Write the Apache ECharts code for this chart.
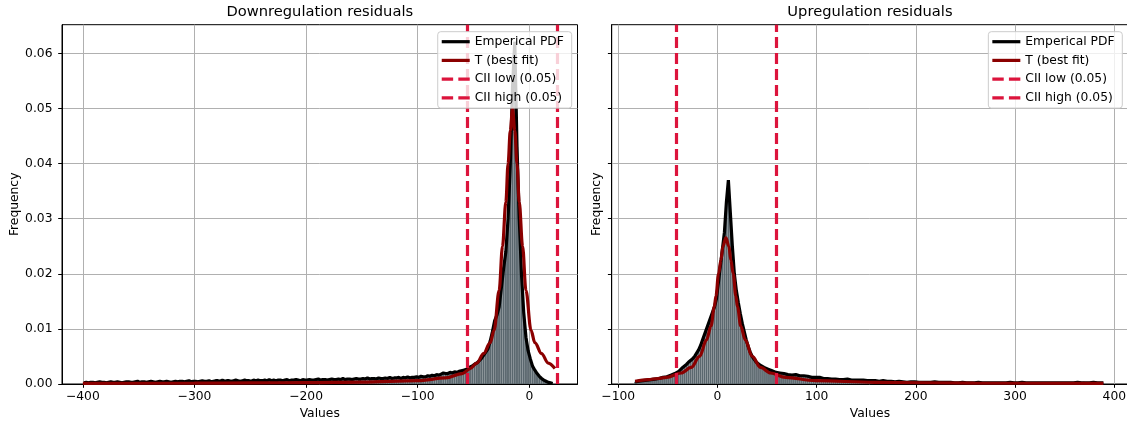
<!DOCTYPE html>
<html>
<head>
<meta charset="utf-8">
<script src="https://cdn.jsdelivr.net/npm/echarts@6/dist/echarts.min.js"></script>
<style>
html,body{margin:0;padding:0;background:#fff;}
#chart{width:1127px;height:426px;}
</style>
</head>
<body>
<div id="chart"></div>
<script>
// ---------------- DATA ----------------
const titles = ['Downregulation residuals', 'Upregulation residuals'];
const legendNames = ['Emperical PDF', 'T (best fit)', 'CII low (0.05)', 'CII high (0.05)'];
const xAxisTitle = 'Values';
const yAxisTitle = 'Frequency';

const yTicks = [0, 0.01, 0.02, 0.03, 0.04, 0.05, 0.06];
const downXTicks = [-400, -300, -200, -100, 0];
const upXTicks = [-100, 0, 100, 200, 300, 400];

// histogram bins (first bin left edge, bin width)
const downBinStart = -400;
const upBinStart = -84;
const binWidth = 2;

// Downregulation histogram density (bins of width 2 from -400)
const downValues = [
0.0002,0.0003,0.0002,0.0003,0.0003,0.0002,0.0003,0.0004,0.0003,0.0003,
0.0002,0.0003,0.0004,0.0003,0.0003,0.0004,0.0003,0.0002,0.0003,0.0004,
0.0004,0.0003,0.0003,0.0004,0.0005,0.0003,0.0004,0.0004,0.0003,0.0004,
0.0005,0.0004,0.0003,0.0004,0.0005,0.0004,0.0004,0.0005,0.0004,0.0003,
0.0004,0.0005,0.0004,0.0005,0.0005,0.0004,0.0005,0.0006,0.0004,0.0005,
0.0005,0.0004,0.0005,0.0006,0.0005,0.0005,0.0006,0.0004,0.0005,0.0006,
0.0006,0.0005,0.0007,0.0005,0.0006,0.0006,0.0005,0.0006,0.0007,0.0006,
0.0005,0.0006,0.0007,0.0006,0.0006,0.0005,0.0007,0.0006,0.0007,0.0006,
0.0006,0.0007,0.0006,0.0008,0.0006,0.0007,0.0006,0.0007,0.0007,0.0006,
0.0007,0.0008,0.0006,0.0007,0.0007,0.0008,0.0007,0.0006,0.0008,0.0007,
0.0007,0.0008,0.0007,0.0007,0.0008,0.0009,0.0007,0.0008,0.0008,0.0007,
0.0008,0.0009,0.0008,0.0008,0.0009,0.0008,0.0010,0.0008,0.0009,0.0009,
0.0008,0.0009,0.0010,0.0009,0.0009,0.0010,0.0009,0.0011,0.0009,0.0010,
0.0010,0.0009,0.0011,0.0010,0.0010,0.0011,0.0010,0.0012,0.0010,0.0011,
0.0011,0.0012,0.0010,0.0012,0.0011,0.0013,0.0011,0.0012,0.0012,0.0013,
0.0012,0.0014,0.0013,0.0013,0.0015,0.0014,0.0016,0.0015,0.0017,0.0016,
0.0018,0.0020,0.0019,0.0019,0.0021,0.0020,0.0022,0.0021,0.0023,0.0024,
0.0025,0.0026,0.0028,0.0031,0.0033,0.0036,0.0038,0.0042,0.0046,0.0052,
0.0058,0.0064,0.0078,0.0095,0.0115,0.0125,0.0140,0.0175,0.0210,0.0240,
0.0300,0.0400,0.0540,0.0621,0.0430,0.0300,0.0200,0.0130,0.0085,0.0060,
0.0045,0.0032,0.0025,0.0019,0.0014,0.0010,0.0007,0.0005,0.0003,0.0002,
0.0001
];

// Upregulation histogram density (bins of width 2 from -84)
const upValues = [
0.0004,0.0005,0.0005,0.0006,0.0006,0.0007,0.0007,0.0008,0.0008,0.0009,
0.0009,0.0010,0.0010,0.0011,0.0012,0.0012,0.0013,0.0015,0.0016,0.0017,
0.0019,0.0021,0.0023,0.0026,0.0030,0.0033,0.0036,0.0040,0.0043,0.0046,
0.0050,0.0056,0.0062,0.0070,0.0080,0.0090,0.0100,0.0110,0.0120,0.0130,
0.0140,0.0155,0.0185,0.0215,0.0245,0.0275,0.0330,0.0370,0.0310,0.0250,
0.0200,0.0170,0.0148,0.0128,0.0110,0.0095,0.0080,0.0068,0.0058,0.0050,
0.0045,0.0040,0.0037,0.0034,0.0032,0.0030,0.0029,0.0027,0.0025,0.0024,
0.0022,0.0021,0.0020,
0.0020,0.0019,0.0019,0.0018,0.0017,0.0018,0.0016,0.0016,0.0017,0.0015,
0.0015,0.0014,0.0015,0.0013,0.0014,0.0013,0.0012,0.0013,0.0012,
0.0011,0.0012,0.0011,0.0010,0.0011,0.0010,0.0010,0.0009,0.0010,0.0009,
0.0009,0.0008,0.0009,0.0008,0.0008,0.0009,0.0008,0.0007,0.0008,0.0007,
0.0007,0.0007,0.0006,0.0007,0.0006,0.0006,0.0007,0.0006,0.0005,0.0006,
0.0006,0.0005,0.0005,0.0006,0.0005,0.0005,0.0004,0.0005,0.0005,0.0004,
0.0004,0.0005,0.0004,0.0004,0.0004,0.0003,0.0004,0.0004,0.0003,0.0004,
0.0003,0.0003,0.0004,0.0003,0.0003,0.0003,0.0002,0.0003,0.0003,0.0004,
0.0003,0.0003,0.0002,0.0003,0.0003,0.0003,0.0002,0.0003,0.0003,0.0002,
0.0003,0.0002,0.0003,0.0003,0.0002,0.0002,0.0003,0.0002,0.0003,0.0002,
0.0002,0.0003,0.0002,0.0002,0.0003,0.0002,0.0002,0.0002,0.0003,0.0002,
0.0002,0.0002,0.0003,0.0002,0.0002,0.0002,0.0002,0.0003,0.0002,0.0002,
0.0002,0.0002,0.0002,0.0003,0.0002,0.0002,0.0002,0.0002,0.0002,0.0002,
0.0003,0.0002,0.0002,0.0002,0.0002,0.0002,0.0003,0.0002,0.0002,0.0002,
0.0002,0.0002,0.0002,0.0002,0.0003,0.0002,0.0002,0.0002,0.0002,0.0002,
0.0002,0.0003,0.0002,0.0002,0.0004,0.0002,0.0002,0.0002,0.0002,0.0003,
0.0002,0.0002,0.0002,0.0002,0.0002
];

// T (best fit) curves, read at selected points
const downFitX = [-400,-300,-250,-200,-150,-100,-75,-60,-53,-47,-41,-35,-31.5,-27,-24,-21,-19,-17,-15,-13,-11,-9,-6,-3,1.5,5,11,17,23];
const downFitY = [0.0001,0.00015,0.0002,0.00025,0.00035,0.0006,0.0011,0.0019,0.0028,0.0038,0.0055,0.0075,0.0098,0.017,0.025,0.033,0.040,0.046,0.050,0.046,0.040,0.033,0.025,0.017,0.0098,0.0075,0.0055,0.0038,0.0028];
const upFitX = [-83,-70,-60,-51.5,-36.5,-26.5,-18,-11,-6.5,-3.2,-1.5,1.1,3.5,5.5,8.5,11.5,13.5,15.9,18.5,20.2,23.5,28,35,43.5,53.5,68.5,98.5,158.5,258.5,389];
const upFitY = [0.0005,0.0008,0.001,0.0012,0.002,0.003,0.005,0.008,0.0105,0.014,0.016,0.020,0.0225,0.025,0.0265,0.025,0.0225,0.020,0.016,0.014,0.0105,0.008,0.005,0.003,0.002,0.0012,0.0006,0.0003,0.00015,0.0001];

// confidence interval limits
const downCI = [-55.6, 25.0];
const upCI = [-42.0, 59.2];

// ---------------- CHART ----------------
const FONT = 'DejaVu Sans';
const histPairs = (start, vals) => vals.map((v, i) => [start + binWidth * (i + 0.5), v]);
const zip = (xs, ys) => xs.map((x, i) => [x, ys[i]]);
const minusFmt = v => String(v).replace('-', '\u2212');

function histRender(params, api) {
  const c = api.value(0), v = api.value(1);
  const p0 = api.coord([c - binWidth / 2, v]);
  const p1 = api.coord([c + binWidth / 2, 0]);
  return {
    type: 'rect',
    shape: { x: p0[0], y: p0[1], width: p1[0] - p0[0], height: p1[1] - p0[1] },
    style: { fill: 'rgba(72,86,94,0.9)', stroke: 'rgba(255,255,255,0.18)', lineWidth: 0.5 }
  };
}

const grids = [
  { left: 62, top: 24.7, width: 515.5, height: 359.3 },
  { left: 611.7, top: 24.7, width: 516.5, height: 359.3 }
];
const xExt = [[-418.7, 43.2], [-106.6, 414.0]];
const xTickSets = [downXTicks, upXTicks];

const solidIcon = 'path://M0,0h28v3.2h-28z';
const dashIcon = 'path://M0,0h11v3.2h-11z M16,0h11v3.2h-11z';
const legendIcons = [solidIcon, solidIcon, dashIcon, dashIcon];

function xAxisFor(i) {
  const base = {
    type: 'value', gridIndex: i, min: xExt[i][0], max: xExt[i][1],
    axisLine: { show: true, onZero: false, lineStyle: { color: '#000', width: 1 } },
    axisTick: { show: true, length: 3.8, lineStyle: { color: '#000', width: 1 } },
    axisLabel: { formatter: minusFmt, color: '#000', fontFamily: FONT, fontSize: 12.3, margin: 6.5 },
    splitLine: { show: true, lineStyle: { color: '#b0b0b0', width: 1 } }
  };
  if (i === 0) {
    base.axisTick.customValues = xTickSets[i];
    base.axisLabel.customValues = xTickSets[i];
  } else {
    // automatic ticks every 100 (-100 ... 400); hide the non-round extent labels
    base.axisLabel.showMinLabel = false;
    base.axisLabel.showMaxLabel = false;
    base.axisLabel.formatter = v => (xTickSets[i].indexOf(v) >= 0 ? minusFmt(v) : '');
  }
  return base;
}

const option = {
  animation: false,
  backgroundColor: '#ffffff',
  grid: grids.map(g => Object.assign({ show: true, borderColor: '#000', borderWidth: 1, backgroundColor: 'transparent', containLabel: false, outerBoundsMode: 'none' }, g)),
  xAxis: [0, 1].map(xAxisFor),
  yAxis: [0, 1].map(i => ({
    type: 'value', gridIndex: i, min: 0, max: 0.0652,
    axisLine: { show: true, onZero: false, lineStyle: { color: '#000', width: 1 } },
    axisTick: { show: true, length: 3.8, lineStyle: { color: '#000', width: 1 }, customValues: yTicks },
    axisLabel: { show: i === 0, customValues: yTicks, formatter: v => v.toFixed(2), color: '#000', fontFamily: FONT, fontSize: 12.3, margin: 9.5 },
    splitLine: { show: true, lineStyle: { color: '#b0b0b0', width: 1 } }
  })),
  legend: [555.3, 4.7].map(r => ({
    data: legendNames.map((n, k) => ({ name: n, icon: legendIcons[k] })),
    right: r, top: 31.7, orient: 'vertical',
    itemWidth: 28, itemHeight: 14, itemGap: 4.7, symbolKeepAspect: true,
    padding: [3, 7.8, 3.3, 4],
    backgroundColor: 'rgba(255,255,255,0.8)', borderColor: '#cccccc', borderWidth: 1, borderRadius: 3,
    selectedMode: false, z: 20,
    textStyle: { fontFamily: FONT, fontSize: 12.3, color: '#000', lineHeight: 14 }
  })),
  graphic: [
    ...[0, 1].map(i => ({ type: 'text', x: grids[i].left + grids[i].width / 2, y: 12.5,
      style: { text: titles[i], fontFamily: FONT, fontSize: 14.7, fill: '#000', align: 'center', verticalAlign: 'middle' } })),
    ...[0, 1].map(i => ({ type: 'text', x: grids[i].left + grids[i].width / 2, y: 414,
      style: { text: xAxisTitle, fontFamily: FONT, fontSize: 12.3, fill: '#000', align: 'center', verticalAlign: 'middle' } })),
    ...[15, 596.7].map((x, i) => ({ type: 'text', x: x, y: grids[i].top + grids[i].height / 2, rotation: Math.PI / 2,
      style: { text: yAxisTitle, fontFamily: FONT, fontSize: 12.3, fill: '#000', align: 'center', verticalAlign: 'middle' } }))
  ],
  series: []
};

const panels = [
  { start: downBinStart, vals: downValues, fit: zip(downFitX, downFitY), ci: downCI },
  { start: upBinStart, vals: upValues, fit: zip(upFitX, upFitY), ci: upCI }
];
panels.forEach((p, i) => {
  const hist = histPairs(p.start, p.vals);
  option.series.push({
    type: 'custom', name: 'hist' + i, xAxisIndex: i, yAxisIndex: i, renderItem: histRender,
    data: hist, z: 1, clip: true, encode: { x: 0, y: 1 }
  });
  option.series.push({
    type: 'line', name: legendNames[0], xAxisIndex: i, yAxisIndex: i, data: hist,
    symbol: 'none', color: '#000', lineStyle: { color: '#000', width: 3.2 }, z: 3
  });
  option.series.push({
    type: 'line', name: legendNames[1], xAxisIndex: i, yAxisIndex: i, data: p.fit,
    symbol: 'none', smooth: 0.35, smoothMonotone: 'x', color: '#8b0000', lineStyle: { color: '#8b0000', width: 3.2 }, z: 4
  });
  [0, 1].forEach(k => {
    option.series.push({
      type: 'line', name: legendNames[2 + k], xAxisIndex: i, yAxisIndex: i, data: [],
      symbol: 'none', color: '#dc143c', lineStyle: { color: '#dc143c', width: 3.2, type: [11, 5] }, z: 5,
      markLine: { silent: true, symbol: ['none', 'none'], label: { show: false },
        lineStyle: { color: '#dc143c', width: 3.2, type: [11, 5] },
        data: [{ xAxis: p.ci[k] }] }
    });
  });
});

const chart = echarts.init(document.getElementById('chart'), null, { renderer: 'canvas' });
chart.setOption(option);
</script>
</body>
</html>
